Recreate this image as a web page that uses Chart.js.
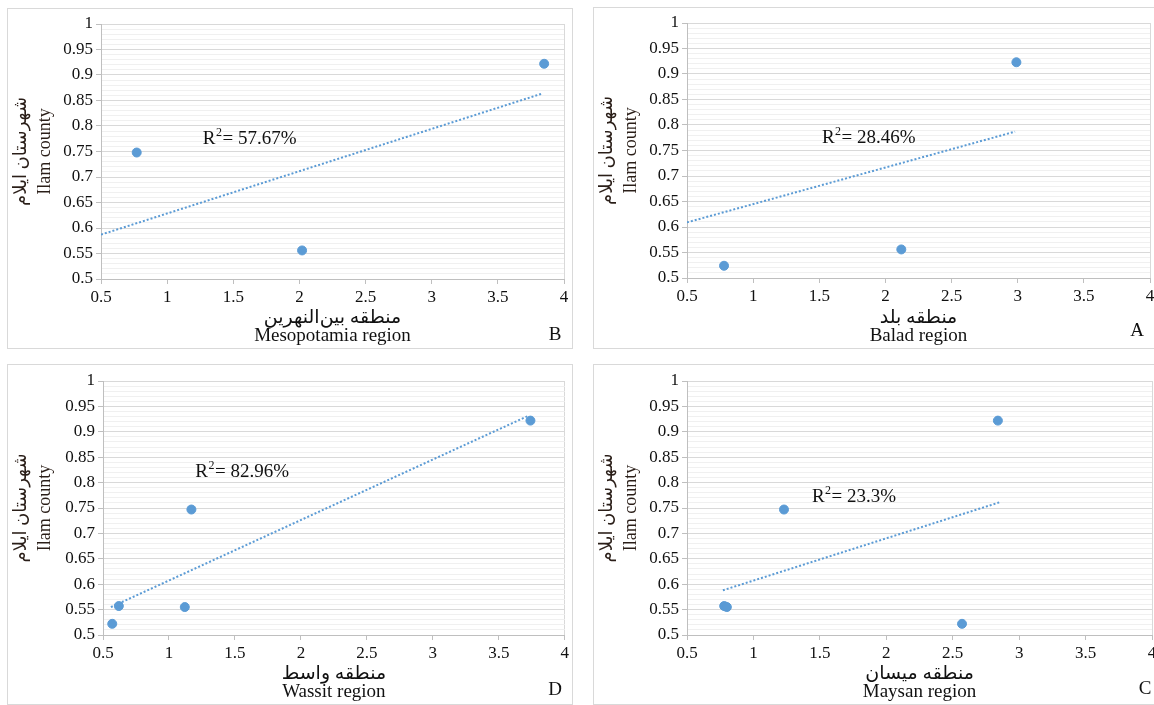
<!DOCTYPE html>
<html>
<head>
<meta charset="utf-8">
<script src="https://cdn.jsdelivr.net/npm/chart.js@4.4.1/dist/chart.umd.min.js"></script>
<style>
  body { margin: 0; background: #fff; width: 1154px; height: 705px; overflow: hidden; position: relative; }
  .panel { position: absolute; border: 1px solid #d9d9d9; background: #fff; }
  .panel canvas { display: block; }
</style>
</head>
<body>
<div class="panel" id="p1"><canvas id="c1"></canvas></div>
<div class="panel" id="p2"><canvas id="c2"></canvas></div>
<div class="panel" id="p3"><canvas id="c3"></canvas></div>
<div class="panel" id="p4"><canvas id="c4"></canvas></div>
<script>
// values
const mesoX = [0.77, 2.02, 3.85];
const mesoY = [0.748, 0.556, 0.922];
const mesoTrendX = [0.5, 3.84];
const mesoTrendY = [0.587, 0.864];

const baladX = [0.78, 2.12, 2.99];
const baladY = [0.524, 0.556, 0.923];
const baladTrendX = [0.5, 2.98];
const baladTrendY = [0.609, 0.787];

const wassitX = [0.57, 0.62, 1.12, 1.17, 3.74];
const wassitY = [0.522, 0.557, 0.555, 0.747, 0.922];
const wassitTrendX = [0.56, 3.72];
const wassitTrendY = [0.555, 0.931];

const maysanX = [0.78, 0.80, 1.23, 2.57, 2.84];
const maysanY = [0.557, 0.555, 0.747, 0.522, 0.922];
const maysanTrendX = [0.77, 2.85];
const maysanTrendY = [0.588, 0.761];

const xTicks = [0.5, 1, 1.5, 2, 2.5, 3, 3.5, 4];
const yTicks = [0.5, 0.55, 0.6, 0.65, 0.7, 0.75, 0.8, 0.85, 0.9, 0.95, 1];

const yTitle = ['شهرستان ایلام', 'Ilam county'];

const serif = "'Liberation Serif', 'Times New Roman', 'DejaVu Sans', serif";
const blue = '#5b9bd5';

function pairs(xs, ys) {
  return xs.map((x, i) => ({ x: x, y: ys[i] }));
}

function isMajor(v) {
  return yTicks.some(t => Math.abs(t - v) < 1e-6);
}

// R2 text and panel letter are drawn on top
const notePlugin = {
  id: 'notes',
  afterDraw(chart, args, opts) {
    const c = chart.ctx;
    const xs = chart.scales.x, ys = chart.scales.y;
    c.save();
    c.fillStyle = '#111';
    c.textBaseline = 'middle';
    c.textAlign = 'left';
    let px = xs.getPixelForValue(opts.r2x);
    const py = ys.getPixelForValue(opts.r2y);
    c.font = '19px ' + serif;
    c.fillText('R', px, py);
    px += c.measureText('R').width;
    c.font = '12px ' + serif;
    c.fillText('2', px + 0.5, py - 6);
    px += c.measureText('2').width + 1;
    c.font = '19px ' + serif;
    c.fillText('= ' + opts.r2, px, py);
    c.textAlign = 'center';
    c.font = '19px ' + serif;
    c.fillText(opts.letter, opts.lx, opts.ly);
    c.restore();
  }
};

function makePanel(cfg) {
  const box = document.getElementById(cfg.box);
  box.style.left = cfg.left + 'px';
  box.style.top = cfg.top + 'px';
  box.style.width = cfg.w + 'px';
  box.style.height = cfg.h + 'px';
  const cv = document.getElementById(cfg.canvas);
  cv.width = cfg.w;
  cv.height = cfg.h;
  cv.style.width = cfg.w + 'px';
  cv.style.height = cfg.h + 'px';
  const ox = cfg.left + 1, oy = cfg.top + 1;

  new Chart(cv, {
    type: 'scatter',
    data: {
      datasets: [{
        data: pairs(cfg.xs, cfg.ys),
        backgroundColor: blue,
        borderColor: blue,
        pointRadius: 4.5,
        pointHoverRadius: 4.5
      }, {
        type: 'line',
        data: pairs(cfg.tx, cfg.ty),
        borderColor: blue,
        borderWidth: 2,
        borderDash: [2, 2],
        pointRadius: 0,
        fill: false
      }]
    },
    options: {
      responsive: false,
      animation: false,
      events: [],
      layout: {
        padding: {
          left: 0,
          top: cfg.plotTop - oy,
          right: cfg.w - (cfg.plotRight - ox),
          bottom: 0
        }
      },
      plugins: {
        legend: { display: false },
        tooltip: { enabled: false },
        notes: { r2: cfg.r2, r2x: cfg.r2x, r2y: cfg.r2y, letter: cfg.letter, lx: cfg.lx - ox, ly: cfg.ly - oy }
      },
      scales: {
        x: {
          type: 'linear',
          min: 0.5,
          max: 4,
          afterBuildTicks: (s) => { s.ticks = xTicks.map(v => ({ value: v })); },
          afterFit: (s) => { s.height = cfg.h - (cfg.plotBottom - oy); },
          ticks: {
            color: '#111',
            font: { family: serif, size: 17 },
            padding: 3,
            maxRotation: 0,
            autoSkip: false,
            callback: (v) => String(v)
          },
          grid: {
            color: (ctx) => ctx.index === xTicks.length - 1 ? '#d9d9d9' : 'rgba(0,0,0,0)',
            tickColor: '#bfbfbf',
            tickLength: 5
          },
          border: { display: true, color: '#bfbfbf' },
          title: {
            display: true,
            text: cfg.xTitle,
            color: '#111',
            font: { family: serif, size: 19, lineHeight: 0.95 },
            padding: { top: 0, bottom: 3 }
          }
        },
        y: {
          type: 'linear',
          min: 0.5,
          max: 1,
          afterBuildTicks: (s) => {
            const t = [];
            for (let i = 50; i <= 100; i++) t.push({ value: i / 100 });
            s.ticks = t;
          },
          afterFit: (s) => { s.width = cfg.plotLeft - ox; },
          ticks: {
            color: '#111',
            font: { family: serif, size: 17 },
            padding: 3,
            autoSkip: false,
            callback: (v) => isMajor(v) ? String(Math.round(v * 100) / 100) : ''
          },
          grid: {
            color: (ctx) => isMajor(ctx.tick.value) ? '#d9d9d9' : '#f0f0f0',
            tickColor: (ctx) => isMajor(ctx.tick.value) ? '#bfbfbf' : 'rgba(0,0,0,0)',
            tickLength: 5
          },
          border: { display: true, color: '#bfbfbf' },
          title: {
            display: true,
            text: yTitle,
            color: '#2a1e18',
            font: { family: serif, size: 18, lineHeight: 1.3 },
            padding: { top: 2, bottom: 0 }
          }
        }
      }
    },
    plugins: [notePlugin]
  });
}

makePanel({
  box: 'p1', canvas: 'c1', left: 7, top: 8, w: 564, h: 339,
  plotLeft: 101, plotTop: 24, plotRight: 564, plotBottom: 279,
  xs: mesoX, ys: mesoY, tx: mesoTrendX, ty: mesoTrendY,
  xTitle: ['منطقه بین‌النهرین', 'Mesopotamia region'],
  r2: '57.67%', r2x: 1.27, r2y: 0.774, letter: 'B', lx: 555, ly: 335
});
makePanel({
  box: 'p2', canvas: 'c2', left: 593, top: 7, w: 566, h: 340,
  plotLeft: 687, plotTop: 23, plotRight: 1150, plotBottom: 278,
  xs: baladX, ys: baladY, tx: baladTrendX, ty: baladTrendY,
  xTitle: ['منطقه بلد', 'Balad region'],
  r2: '28.46%', r2x: 1.52, r2y: 0.774, letter: 'A', lx: 1137, ly: 331
});
makePanel({
  box: 'p3', canvas: 'c3', left: 7, top: 364, w: 564, h: 339,
  plotLeft: 103, plotTop: 381, plotRight: 565, plotBottom: 635,
  xs: wassitX, ys: wassitY, tx: wassitTrendX, ty: wassitTrendY,
  xTitle: ['منطقه واسط', 'Wassit region'],
  r2: '82.96%', r2x: 1.2, r2y: 0.8215, letter: 'D', lx: 555, ly: 690
});
makePanel({
  box: 'p4', canvas: 'c4', left: 593, top: 364, w: 566, h: 339,
  plotLeft: 687, plotTop: 381, plotRight: 1152, plotBottom: 635,
  xs: maysanX, ys: maysanY, tx: maysanTrendX, ty: maysanTrendY,
  xTitle: ['منطقه میسان', 'Maysan region'],
  r2: '23.3%', r2x: 1.44, r2y: 0.772, letter: 'C', lx: 1145, ly: 689
});
</script>
</body>
</html>
